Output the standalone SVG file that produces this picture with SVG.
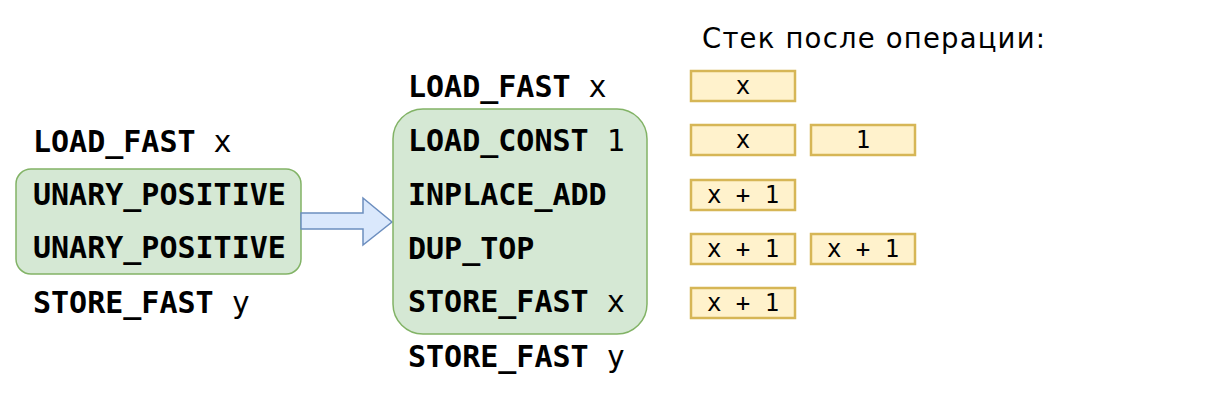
<svg xmlns="http://www.w3.org/2000/svg" width="1227" height="401" viewBox="0 0 1227 401">
<style>
.op{font-family:"DejaVu Sans Mono","Liberation Mono",monospace;font-size:30px;fill:#000}
.op .k{font-weight:bold}
.grp{fill:#d5e8d4;stroke:#82b366;stroke-width:1.5}
.stk{fill:#fff2cc;stroke:#d6b656;stroke-width:2.5}
.st{font-family:"DejaVu Sans Mono","Liberation Mono",monospace;font-size:24px;fill:#000;text-anchor:middle}
.hd{font-family:"DejaVu Sans","Liberation Sans",sans-serif;font-size:27.5px;fill:#000}
</style>
<rect width="1227" height="401" fill="#fff"/>
<g id="left-block">
<rect class="grp" x="16" y="169" width="285" height="105" rx="15"/>
<text class="op" x="33" y="152"><tspan class="k">LOAD_FAST</tspan> x</text>
<text class="op" x="33" y="205"><tspan class="k">UNARY_POSITIVE</tspan></text>
<text class="op" x="33" y="258"><tspan class="k">UNARY_POSITIVE</tspan></text>
<text class="op" x="33" y="313"><tspan class="k">STORE_FAST</tspan> y</text>
</g>
<g id="connectors">
<path d="M301,213 H363 V198 L392,222 L363,245 V229 H301 Z" fill="#dae8fc" stroke="#6c8ebf" stroke-width="1.5"/>
</g>
<g id="right-block">
<rect class="grp" x="393" y="109" width="254" height="225" rx="30"/>
<text class="op" x="408" y="97"><tspan class="k">LOAD_FAST</tspan> x</text>
<text class="op" x="408" y="151"><tspan class="k">LOAD_CONST</tspan> 1</text>
<text class="op" x="408" y="205"><tspan class="k">INPLACE_ADD</tspan></text>
<text class="op" x="408" y="259"><tspan class="k">DUP_TOP</tspan></text>
<text class="op" x="408" y="312"><tspan class="k">STORE_FAST</tspan> x</text>
<text class="op" x="408" y="367"><tspan class="k">STORE_FAST</tspan> y</text>
</g>
<g id="stack">
<text class="hd" x="702" y="48" textLength="343" lengthAdjust="spacing">Стек после операции:</text>
<rect class="stk" x="691" y="71" width="104" height="30"/>
<text class="st" x="743" y="94">x</text>
<rect class="stk" x="691" y="125" width="104" height="30"/>
<text class="st" x="743" y="148">x</text>
<rect class="stk" x="811" y="125" width="104" height="30"/>
<text class="st" x="863" y="148">1</text>
<rect class="stk" x="691" y="180" width="104" height="30"/>
<text class="st" x="743" y="203">x + 1</text>
<rect class="stk" x="691" y="234" width="104" height="30"/>
<text class="st" x="743" y="257">x + 1</text>
<rect class="stk" x="811" y="234" width="104" height="30"/>
<text class="st" x="863" y="257">x + 1</text>
<rect class="stk" x="691" y="288" width="104" height="30"/>
<text class="st" x="743" y="311">x + 1</text>
</g>
</svg>
